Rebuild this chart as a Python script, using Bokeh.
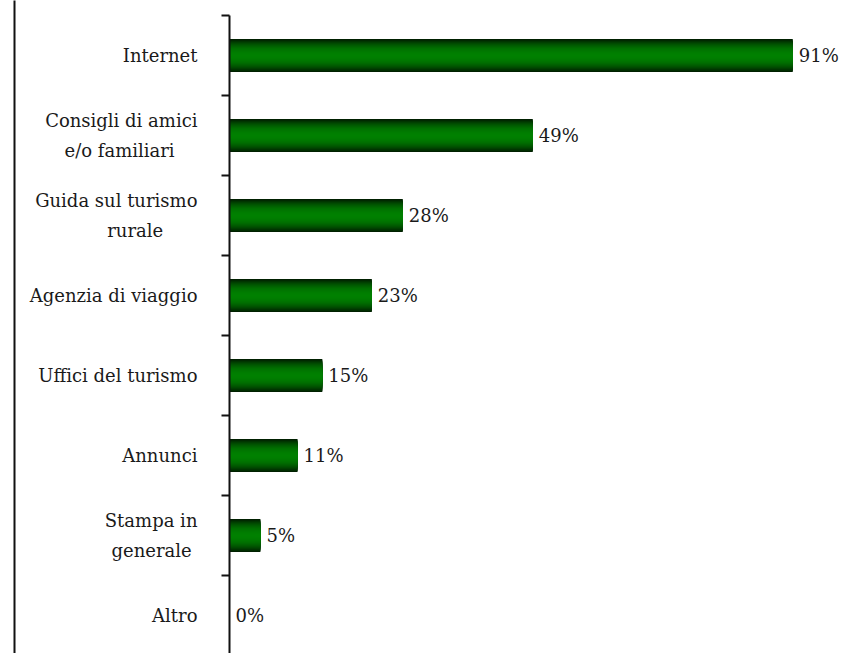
from bokeh.plotting import figure
from bokeh.models import Range1d, LinearAxis, FixedTicker, ColumnDataSource
from bokeh.core.properties import value
from bokeh.embed import file_html
from bokeh.resources import INLINE

# ---- data ----
NB = "\u00a0"
categories = [
    "Internet",
    "Consigli di amici\ne/o familiari" + NB * 4,
    "Guida sul turismo\nrurale" + NB * 6,
    "Agenzia di viaggio",
    "Uffici del turismo",
    "Annunci",
    "Stampa in\ngenerale" + NB,
    "Altro",
]
values = [91, 49, 28, 23, 15, 11, 5, 0]
value_labels = ["91%", "49%", "28%", "23%", "15%", "11%", "5%", "0%"]

FONT = "DejaVu Serif"
FS = "18px"
n = len(categories)
ypos = [n - i - 0.5 for i in range(n)]

p = figure(
    width=846, height=653,
    output_backend="svg", toolbar_location=None,
    x_range=Range1d(-34.73, 99.68), y_range=Range1d(0.025, 8.1875),
    x_axis_location=None, y_axis_location=None,
    min_border_left=14, min_border_right=0, min_border_top=0, min_border_bottom=0,
)
p.outline_line_color = None
p.xgrid.visible = False
p.ygrid.visible = False
p.background_fill_color = "white"
p.border_fill_color = "white"

# gradient bars: concentric layers (dark edges, bright centre)
H = 0.41
N = 16
src = ColumnDataSource(dict(y=ypos, right=values))
for k in range(N):
    d = 1 - k / N
    g = int(round(0x80 * (1 - 0.75 * d ** 2.2)))
    color = "#00%02x00" % g
    p.hbar(y="y", left=0, right="right", height=H * d, source=src,
           fill_color=color, line_color=None)

# value labels
p.text(x=values, y=ypos, text=value_labels, x_offset=6,
       text_baseline="middle", text_align="left",
       text_font=value(FONT), text_font_size=FS, text_color="#1a1a1a")

# category axis at x=0
cat_axis = LinearAxis(
    fixed_location=0,
    ticker=FixedTicker(ticks=ypos, minor_ticks=list(range(n + 1))),
    major_label_overrides={y: c for y, c in zip(ypos, categories)},
    bounds=(0, n),
    major_tick_out=0, major_tick_in=0,
    minor_tick_out=8, minor_tick_in=0,
    minor_tick_line_width=2, minor_tick_line_color="#111111",
    axis_line_width=2, axis_line_color="#111111",
    major_label_standoff=24,
    major_label_text_font=FONT, major_label_text_font_size=FS,
    major_label_text_color="#1a1a1a",
    major_label_text_line_height=1.4,
)
p.add_layout(cat_axis, "left")

# left frame line
edge_axis = LinearAxis(
    ticker=FixedTicker(ticks=[]),
    major_tick_out=0, major_tick_in=0, minor_tick_out=0, minor_tick_in=0,
    major_label_standoff=0,
    axis_line_width=2, axis_line_color="#111111",
)
p.add_layout(edge_axis, "left")

open("out.html", "w").write(file_html(p, INLINE))
